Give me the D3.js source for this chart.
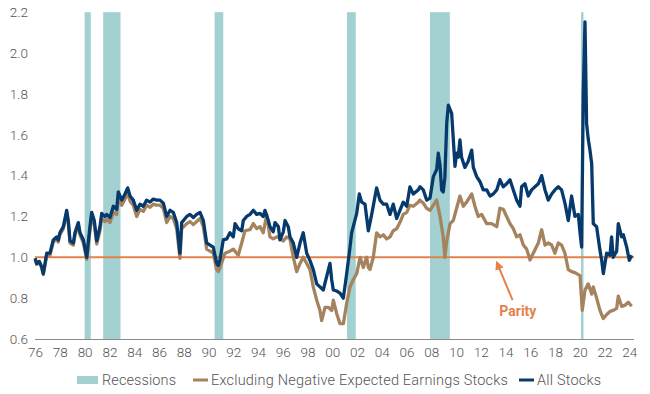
<!DOCTYPE html>
<html>
<head>
<meta charset="utf-8">
<script src="https://cdn.jsdelivr.net/npm/d3@7"></script>
<style>
  html, body { margin: 0; padding: 0; background: #fff; }
  svg text { font-family: Roboto, "Noto Sans", sans-serif; }
</style>
</head>
<body>
<svg id="chart" width="650" height="394"></svg>
<script>
// ---- DATA ----
const yTicks = [0.6, 0.8, 1.0, 1.2, 1.4, 1.6, 1.8, 2.0, 2.2];
const xTickYears = d3.range(1976, 2025, 2);
const xTickLabels = xTickYears.map(y => String(y % 100).padStart(2, "0"));
const parity = 1.0;
const recessions = [[1980.0, 1980.5], [1981.5, 1982.9], [1990.5, 1991.2], [2001.2, 2001.9], [2007.9, 2009.5], [2020.1, 2020.3]];

// All Stocks [year, value]
const allStocks = [
  [1976.0,0.995],[1976.13,0.97],[1976.34,0.98],[1976.53,0.954],[1976.66,0.92],[1976.8,0.97],[1976.94,1.02],
  [1977.2,1.02],[1977.47,1.085],[1977.74,1.10],[1977.87,1.085],[1978.0,1.12],[1978.28,1.15],[1978.55,1.23],
  [1978.68,1.18],[1978.82,1.08],[1979.09,1.07],[1979.22,1.12],[1979.49,1.17],[1979.63,1.12],[1979.9,1.085],
  [1980.17,1.0],[1980.43,1.15],[1980.57,1.22],[1980.78,1.18],[1980.98,1.08],[1981.24,1.15],[1981.38,1.215],
  [1981.65,1.20],[1981.78,1.21],[1982.05,1.195],[1982.32,1.25],[1982.59,1.235],[1982.72,1.32],[1983.0,1.28],
  [1983.26,1.31],[1983.48,1.34],[1983.67,1.30],[1983.93,1.28],[1984.21,1.23],[1984.47,1.26],[1984.74,1.25],
  [1985.01,1.28],[1985.28,1.27],[1985.55,1.285],[1985.82,1.28],[1986.09,1.28],[1986.36,1.265],[1986.63,1.20],
  [1986.9,1.23],[1987.16,1.22],[1987.44,1.17],[1987.7,1.02],[1987.84,1.17],[1988.25,1.20],[1988.51,1.21],
  [1988.78,1.195],[1989.05,1.21],[1989.32,1.22],[1989.59,1.18],[1989.86,1.07],[1990.13,1.06],[1990.39,1.05],
  [1990.67,0.97],[1990.8,0.96],[1990.94,0.99],[1991.2,1.085],[1991.48,1.09],[1991.74,1.12],[1992.01,1.10],
  [1992.15,1.165],[1992.41,1.14],[1992.69,1.13],[1992.82,1.18],[1993.09,1.20],[1993.36,1.21],[1993.63,1.23],
  [1993.9,1.21],[1994.17,1.215],[1994.43,1.20],[1994.57,1.23],[1994.84,1.18],[1994.97,1.15],[1995.24,1.125],
  [1995.38,1.17],[1995.65,1.15],[1995.78,1.085],[1996.05,1.125],[1996.19,1.18],[1996.45,1.15],[1996.59,1.10],
  [1996.86,1.07],[1997.13,1.0],[1997.4,1.07],[1997.66,1.12],[1997.94,1.02],[1998.2,0.985],[1998.47,0.94],
  [1998.75,0.87],[1999.01,0.855],[1999.28,0.84],[1999.55,0.905],[1999.82,0.97],[1999.96,0.89],[2000.09,0.84],
  [2000.36,0.835],[2000.63,0.825],[2000.9,0.80],[2001.17,0.92],[2001.44,1.05],[2001.57,1.12],[2001.7,1.15],
  [2001.98,1.215],[2002.19,1.31],[2002.38,1.27],[2002.65,1.26],[2002.92,1.13],[2003.19,1.21],[2003.59,1.34],
  [2003.86,1.28],[2004.13,1.26],[2004.4,1.26],[2004.67,1.21],[2004.93,1.26],[2005.21,1.19],[2005.47,1.23],
  [2005.74,1.27],[2006.02,1.25],[2006.28,1.345],[2006.55,1.31],[2006.95,1.33],[2007.09,1.345],[2007.36,1.33],
  [2007.63,1.28],[2007.9,1.29],[2008.17,1.395],[2008.44,1.43],[2008.57,1.51],[2008.71,1.45],[2008.84,1.33],
  [2008.97,1.32],[2009.1,1.39],[2009.25,1.655],[2009.38,1.745],[2009.65,1.705],[2009.78,1.58],[2009.92,1.445],
  [2010.05,1.51],[2010.18,1.49],[2010.32,1.575],[2010.45,1.49],[2010.72,1.44],[2010.99,1.47],[2011.27,1.525],
  [2011.4,1.44],[2011.67,1.395],[2011.94,1.37],[2012.2,1.33],[2012.48,1.33],[2012.75,1.30],[2013.01,1.31],
  [2013.29,1.33],[2013.55,1.38],[2013.82,1.345],[2014.09,1.36],[2014.36,1.38],[2014.63,1.33],[2014.9,1.28],
  [2015.17,1.25],[2015.3,1.345],[2015.57,1.36],[2015.84,1.30],[2016.11,1.33],[2016.38,1.345],[2016.65,1.36],
  [2016.92,1.40],[2017.19,1.33],[2017.45,1.28],[2017.73,1.31],[2017.99,1.33],[2018.26,1.345],[2018.53,1.33],
  [2018.8,1.265],[2019.07,1.18],[2019.34,1.30],[2019.61,1.20],[2019.88,1.21],[2020.02,1.12],[2020.15,1.05],
  [2020.28,1.80],[2020.42,2.153],[2020.55,1.655],[2020.68,1.58],[2020.82,1.525],[2020.96,1.46],[2021.09,1.165],
  [2021.36,1.15],[2021.63,1.035],[2021.77,0.985],[2021.9,0.92],[2022.17,1.02],[2022.44,1.01],[2022.57,1.10],
  [2022.7,1.0],[2022.98,1.03],[2023.11,1.165],[2023.38,1.10],[2023.52,1.11],[2023.79,1.05],[2024.0,0.985],[2024.19,1.01]
];

// Excluding Negative Expected Earnings Stocks [year, value]
const exNegative = [
  [1976.0,0.99],[1976.13,0.965],[1976.34,0.975],[1976.53,0.95],[1976.66,0.915],[1976.8,0.96],[1976.94,1.01],
  [1977.2,1.01],[1977.47,1.075],[1977.74,1.09],[1977.87,1.075],[1978.0,1.11],[1978.28,1.14],[1978.55,1.21],
  [1978.68,1.17],[1978.82,1.07],[1979.09,1.06],[1979.22,1.11],[1979.49,1.155],[1979.63,1.11],[1979.9,1.07],
  [1980.17,0.99],[1980.43,1.13],[1980.57,1.20],[1980.78,1.16],[1980.98,1.065],[1981.24,1.13],[1981.38,1.19],
  [1981.65,1.175],[1981.78,1.185],[1982.05,1.17],[1982.32,1.22],[1982.59,1.21],[1982.72,1.29],[1983.0,1.255],
  [1983.26,1.285],[1983.48,1.315],[1983.67,1.275],[1983.93,1.255],[1984.21,1.20],[1984.47,1.235],[1984.74,1.225],
  [1985.01,1.255],[1985.28,1.245],[1985.55,1.26],[1985.82,1.255],[1986.09,1.255],[1986.36,1.24],[1986.63,1.17],
  [1986.9,1.20],[1987.16,1.19],[1987.44,1.14],[1987.7,0.995],[1987.84,1.14],[1988.25,1.165],[1988.51,1.175],
  [1988.78,1.16],[1989.05,1.175],[1989.32,1.19],[1989.59,1.15],[1989.86,1.04],[1990.13,1.03],[1990.39,1.02],
  [1990.67,0.94],[1990.8,0.93],[1990.94,0.95],[1991.34,1.02],[1991.74,1.03],[1992.01,1.04],[1992.41,1.01],
  [1992.69,1.07],[1992.95,1.13],[1993.36,1.135],[1993.63,1.165],[1993.9,1.14],[1994.17,1.15],[1994.43,1.12],
  [1994.71,1.21],[1994.97,1.10],[1995.24,1.09],[1995.52,1.10],[1995.78,1.095],[1996.05,1.08],[1996.32,1.10],
  [1996.59,1.09],[1996.86,1.0],[1997.13,0.93],[1997.4,0.97],[1997.66,1.0],[1997.94,0.97],[1998.2,0.94],
  [1998.47,0.855],[1998.75,0.79],[1999.01,0.74],[1999.15,0.69],[1999.42,0.755],[1999.68,0.755],[1999.96,0.74],
  [2000.09,0.79],[2000.36,0.725],[2000.63,0.675],[2000.9,0.675],[2001.17,0.775],[2001.44,0.855],[2001.7,0.89],
  [2001.98,0.92],[2002.25,1.0],[2002.51,0.95],[2002.78,1.0],[2002.92,0.95],[2003.05,0.94],[2003.32,1.0],
  [2003.59,1.12],[2003.86,1.10],[2004.13,1.11],[2004.4,1.09],[2004.67,1.10],[2004.93,1.13],[2005.21,1.14],
  [2005.47,1.17],[2005.74,1.21],[2006.02,1.22],[2006.28,1.255],[2006.55,1.25],[2006.95,1.27],[2007.09,1.28],
  [2007.36,1.265],[2007.63,1.24],[2007.9,1.23],[2008.17,1.255],[2008.44,1.28],[2008.71,1.20],[2008.97,1.10],
  [2009.1,1.0],[2009.25,1.08],[2009.52,1.165],[2009.78,1.18],[2010.05,1.24],[2010.32,1.30],[2010.59,1.25],
  [2010.86,1.27],[2011.27,1.31],[2011.53,1.25],[2011.8,1.20],[2012.07,1.21],[2012.48,1.165],[2012.88,1.165],
  [2013.29,1.15],[2013.55,1.24],[2013.82,1.235],[2014.09,1.20],[2014.36,1.165],[2014.63,1.14],[2014.9,1.10],
  [2015.17,1.11],[2015.44,1.06],[2015.71,1.04],[2015.98,0.987],[2016.24,1.02],[2016.65,1.07],[2016.92,1.135],
  [2017.19,1.06],[2017.45,1.07],[2017.73,1.06],[2017.99,1.02],[2018.26,1.07],[2018.53,1.06],[2018.8,1.02],
  [2019.07,0.94],[2019.34,0.93],[2019.61,0.925],[2020.02,0.91],[2020.2,0.74],[2020.42,0.84],[2020.68,0.87],
  [2020.96,0.82],[2021.09,0.855],[2021.36,0.80],[2021.63,0.74],[2021.9,0.70],[2022.17,0.72],[2022.44,0.735],
  [2022.7,0.74],[2022.98,0.75],[2023.11,0.81],[2023.38,0.76],[2023.65,0.765],[2023.92,0.78],[2024.19,0.76]
];

const legendItems = [
  {label: "Recessions", type: "rect", color: "#A3D0D1"},
  {label: "Excluding Negative Expected Earnings Stocks", type: "line", color: "#A6835F"},
  {label: "All Stocks", type: "line", color: "#073A6C"}
];

// ---- CHART ----
const svg = d3.select("#chart");
const x = d3.scaleLinear().domain([1976, 2024]).range([35.1, 629.3]);
const y = d3.scaleLinear().domain([0.6, 2.2]).range([339, 12.2]);

const COL_BAND = "#A3D0D1", COL_NAVY = "#073A6C", COL_BROWN = "#A6835F", COL_PAR = "#E4824A", COL_TEXT = "#555";

// recession bands
svg.append("g").selectAll("rect").data(recessions).join("rect")
  .attr("x", d => x(d[0])).attr("width", d => x(d[1]) - x(d[0]))
  .attr("y", y(2.2)).attr("height", y(0.6) - y(2.2))
  .attr("fill", COL_BAND);

// y axis labels
const yAxis = d3.axisLeft(y).tickValues(yTicks).tickFormat(d3.format(".1f")).tickSize(0).tickPadding(0);
svg.append("g").attr("transform", "translate(28,0)").call(yAxis)
  .call(g => g.select(".domain").remove())
  .call(g => g.selectAll("text").attr("fill", COL_TEXT).attr("font-size", 13.5).attr("font-weight", 300)
    .attr("font-family", "Roboto, sans-serif"));

// x axis
const xAxis = d3.axisBottom(x).tickValues(xTickYears).tickFormat((d, i) => xTickLabels[i]).tickSize(0).tickPadding(8);
svg.append("g").attr("transform", `translate(0,${y(0.6)})`).call(xAxis)
  .call(g => g.select(".domain").attr("d", `M35,0.5H634`).attr("stroke", "#8a8a8a"))
  .call(g => g.selectAll("text").attr("fill", COL_TEXT).attr("font-size", 13.5).attr("font-weight", 300)
    .attr("font-family", "Roboto, sans-serif"));

// parity line
svg.append("line").attr("x1", 35).attr("x2", 634).attr("y1", y(parity)).attr("y2", y(parity))
  .attr("stroke", COL_PAR).attr("stroke-width", 2);

const line = d3.line().x(d => x(d[0])).y(d => y(d[1])).curve(d3.curveLinear);
svg.append("path").datum(exNegative).attr("d", line).attr("fill", "none")
  .attr("stroke", COL_BROWN).attr("stroke-width", 3.3).attr("stroke-linejoin", "round");
svg.append("path").datum(allStocks).attr("d", line).attr("fill", "none")
  .attr("stroke", COL_NAVY).attr("stroke-width", 3.3).attr("stroke-linejoin", "round");

// parity annotation
const defs = svg.append("defs");
defs.append("marker").attr("id", "arr").attr("viewBox", "0 0 10 10").attr("refX", 8).attr("refY", 5)
  .attr("markerWidth", 4.5).attr("markerHeight", 4.5).attr("orient", "auto")
  .append("path").attr("d", "M0,0L10,5L0,10z").attr("fill", COL_PAR);
svg.append("line").attr("x1", x(2014.57)).attr("y1", y(0.79)).attr("x2", x(2013.3)).attr("y2", y(0.975))
  .attr("stroke", COL_PAR).attr("stroke-width", 2).attr("marker-end", "url(#arr)");
svg.append("text").attr("x", x(2015.0)).attr("y", y(0.715)).attr("text-anchor", "middle")
  .attr("fill", COL_PAR).attr("font-size", 14).attr("font-weight", 700).text("Parity");

// legend
const legend = svg.append("g").attr("transform", "translate(0,380)");
const lx = [77, 193, 519];
legendItems.forEach((d, i) => {
  const g = legend.append("g").attr("transform", `translate(${lx[i]},0)`);
  if (d.type === "rect") {
    g.append("rect").attr("x", 0).attr("y", -4).attr("width", 21).attr("height", 8).attr("fill", d.color);
    g.append("text").attr("x", 25).attr("y", 0).attr("dy", "0.35em").attr("fill", COL_TEXT)
      .attr("font-size", 14.5).attr("font-weight", 300).attr("letter-spacing", 0.1).text(d.label);
  } else {
    g.append("line").attr("x1", 0).attr("x2", 15).attr("y1", 0).attr("y2", 0)
      .attr("stroke", d.color).attr("stroke-width", 3);
    g.append("text").attr("x", 18).attr("y", 0).attr("dy", "0.35em").attr("fill", COL_TEXT)
      .attr("font-size", 14.5).attr("font-weight", 300).attr("letter-spacing", 0.2).text(d.label);
  }
});
</script>
</body>
</html>
